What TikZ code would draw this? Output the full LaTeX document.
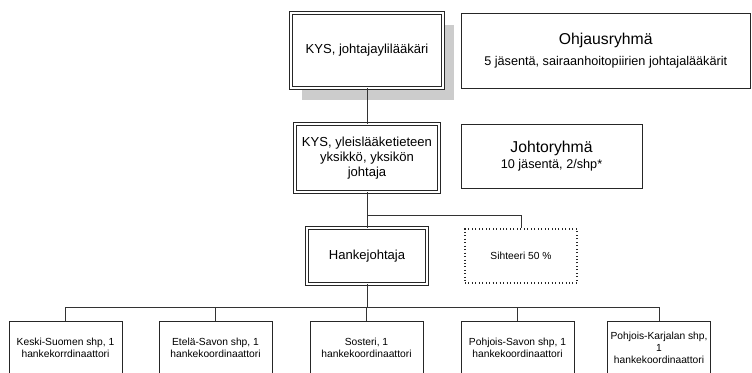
\documentclass[tikz,border=0pt]{standalone}
\usepackage{fontspec}
\setmainfont{Liberation Sans}
\usetikzlibrary{shadows}

\begin{document}
\begin{tikzpicture}[x=0.75pt,y=-0.75pt,
  kasti/.style={draw=black!85, line width=0.6pt, fill=white, align=center,
    inner sep=2pt, font=\fontsize{9.8}{11.3}\selectfont},
  tupla/.style={kasti, double=white, double distance=1.6pt, line width=0.6pt},
  pieni/.style={kasti, font=\fontsize{7.7}{8.8}\selectfont,
    minimum width=84.75pt, minimum height=40.5pt},
  viiva/.style={draw=black!80, line width=0.6pt}]
\clip (0,0) rectangle (752,372);
% Johto:
\node[tupla, minimum width=114pt, minimum height=56.25pt,
  drop shadow={shadow xshift=8.25pt, shadow yshift=-9pt, fill=black!20, opacity=1}]
  (kys) at (367,50.5) {KYS, johtajaylilääkäri};
\node[kasti, minimum width=217pt, minimum height=56.25pt, font=\fontsize{9.5}{11.5}\selectfont]
  (ohjaus) at (605.75,50.5) {{\fontsize{11.8}{14}\selectfont Ohjausryhmä}\\[4pt] 5 jäsentä, sairaanhoitopiirien johtajalääkärit};
\node[tupla, minimum width=108pt, minimum height=51pt]
  (yksikko) at (367,158) {KYS, yleislääketieteen\\ yksikkö, yksikön\\ johtaja};
\node[kasti, minimum width=135.75pt, minimum height=48pt, font=\fontsize{9.5}{11.5}\selectfont]
  (johto) at (551.5,156) {{\fontsize{11.8}{14}\selectfont Johtoryhmä}\\[1pt] 10 jäsentä, 2/shp*};
% Hanke:
\node[tupla, minimum width=90pt, minimum height=42pt] (hanke) at (367,256) {Hankejohtaja};
\node[kasti, dotted, line width=0.9pt, minimum width=84pt, minimum height=40.5pt,
  font=\fontsize{7.7}{8.8}\selectfont] (sihteeri) at (521,256) {Sihteeri 50 \%};
% Koordinaattorit:
\node[pieni] (kesk) at (65.5,348) {Keski-Suomen shp, 1\\ hankekorrdinaattori};
\node[pieni] (etel) at (215.5,348) {Etelä-Savon shp, 1\\ hankekoordinaattori};
\node[pieni] (sost) at (366.5,348) {Sosteri, 1\\ hankekoordinaattori};
\node[pieni] (psav) at (517.5,348) {Pohjois-Savon shp, 1\\ hankekoordinaattori};
\node[pieni, minimum width=70.5pt] (pkar) at (659,348) {Pohjois-Karjalan shp,\\ 1\\ hankekoordinaattori};
% Viivat:
\coordinate (haara) at (367,215);
\coordinate (vayla) at (367,307);
\draw[viiva] (kys) -- (yksikko);
\draw[viiva] (yksikko) -- (hanke);
\draw[viiva] (haara) -| (sihteeri);
\draw[viiva] (hanke) -- (vayla);
\foreach \b in {kesk,etel,sost,psav,pkar}
  \draw[viiva] (vayla) -| (\b);
\end{tikzpicture}
\end{document}
